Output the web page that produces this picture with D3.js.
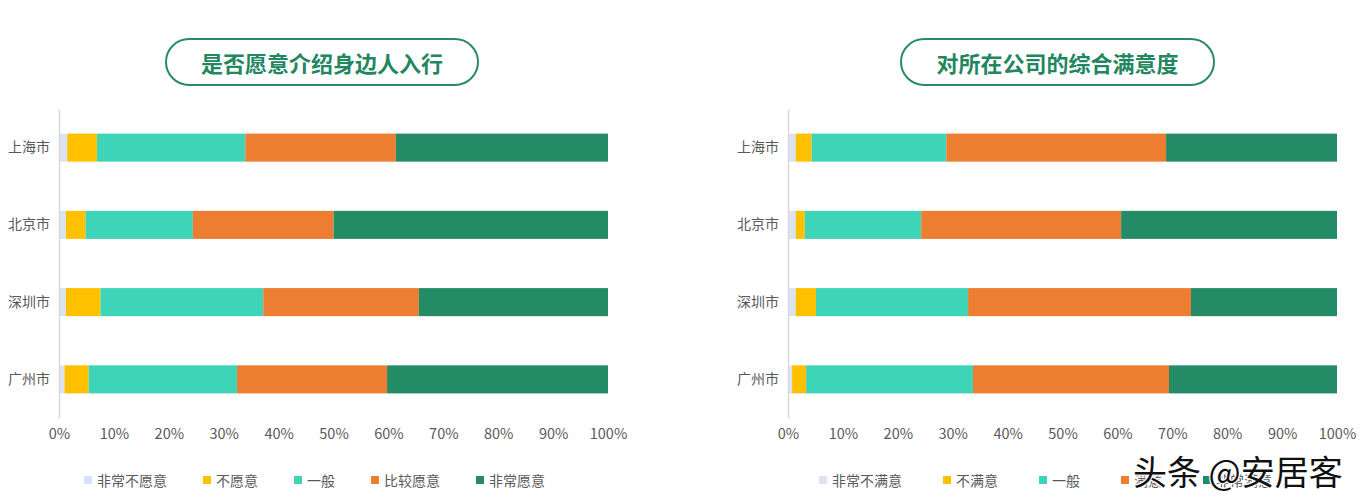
<!DOCTYPE html>
<html>
<head>
<meta charset="utf-8">
<script src="https://cdn.jsdelivr.net/npm/d3@7"></script>
<style>
  html, body { margin: 0; padding: 0; background: #ffffff; }
  svg { display: block; font-family: "Noto Sans CJK SC", "Noto Sans", sans-serif; }
</style>
</head>
<body>
<div id="canvas"></div>
<script>
// 城市
const cities = ["上海市", "北京市", "深圳市", "广州市"];
const tickLabels = ["0%", "10%", "20%", "30%", "40%", "50%", "60%", "70%", "80%", "90%", "100%"];

// 是否愿意介绍身边人入行
const willNames = ["非常不愿意", "不愿意", "一般", "比较愿意", "非常愿意"];
const willVeryNot = [1.5, 1.25, 1.25, 1.0];
const willNot = [5.4, 3.6, 6.3, 4.4];
const willNeutral = [27.0, 19.5, 29.6, 27.0];
const willSomewhat = [27.4, 25.6, 28.3, 27.3];
const willVery = [38.6, 49.9, 34.4, 40.2];

// 对所在公司的综合满意度
const satNames = ["非常不满意", "不满意", "一般", "满意", "非常满意"];
const satVeryNot = [1.4, 1.4, 1.4, 0.75];
const satNot = [2.9, 1.65, 3.7, 2.55];
const satNeutral = [24.5, 21.2, 27.7, 30.4];
const satYes = [40.0, 36.4, 40.6, 35.7];
const satVery = [31.1, 39.3, 26.6, 30.6];

const colors = ["#dae3f3", "#ffc000", "#3dd4b7", "#ed7d31", "#238b65"];

const svg = d3.select("#canvas")
  .append("svg")
  .attr("width", 1366)
  .attr("height", 499);

function drawChart(opt) {
  const g = svg.append("g");

  // 组合成表格给 d3.stack 使用
  const rows = cities.map((city, i) => {
    const row = { city };
    opt.names.forEach((n, k) => { row[n] = opt.series[k][i]; });
    return row;
  });
  const stacked = d3.stack().keys(opt.names).offset(d3.stackOffsetExpand)(rows);

  const x = d3.scaleLinear().domain([0, 1]).range([opt.left, opt.right]);
  const y = d3.scaleBand().domain(cities).range([109, 418])
    .paddingInner(0.637).paddingOuter(0.3185);
  const color = d3.scaleOrdinal().domain(opt.names).range(colors);

  // 标题框
  const tw = opt.titleRight - opt.titleLeft;
  g.append("rect")
    .attr("x", opt.titleLeft).attr("y", 39)
    .attr("width", tw).attr("height", 46)
    .attr("rx", 23).attr("ry", 23)
    .attr("fill", "#fff")
    .attr("stroke", "#2a8a65")
    .attr("stroke-width", 2);
  g.append("text")
    .attr("x", opt.titleLeft + tw / 2).attr("y", 62)
    .attr("text-anchor", "middle")
    .attr("dominant-baseline", "central")
    .attr("font-size", 22)
    .attr("font-weight", "bold")
    .attr("fill", "#228660")
    .text(opt.title);

  // 堆叠条
  g.append("g")
    .selectAll("g")
    .data(stacked)
    .join("g")
    .attr("fill", d => color(d.key))
    .selectAll("rect")
    .data(d => d)
    .join("rect")
    .attr("x", d => x(d[0]))
    .attr("y", d => y(d.data.city))
    .attr("width", d => x(d[1]) - x(d[0]))
    .attr("height", y.bandwidth());

  // y 轴
  const yAxis = g.append("g")
    .attr("transform", `translate(${opt.left},0)`)
    .call(d3.axisLeft(y).tickSize(0).tickPadding(9));
  yAxis.select(".domain").attr("stroke", "#d9d9d9").attr("stroke-width", 1.5);
  yAxis.selectAll("text")
    .attr("font-size", 14)
    .attr("fill", "#595959")
    .attr("font-family", "Noto Sans CJK SC");

  // x 轴刻度文字
  const xAxis = g.append("g")
    .attr("transform", "translate(0,429)")
    .call(d3.axisBottom(x).tickValues(d3.range(0, 1.0001, 0.1)).tickSize(0).tickPadding(0)
      .tickFormat((d, i) => tickLabels[i]));
  xAxis.select(".domain").remove();
  xAxis.selectAll("text")
    .attr("font-size", 14.5)
    .attr("fill", "#595959")
    .attr("font-family", "Noto Sans CJK SC");

  // 图例
  const legend = g.append("g").attr("transform", "translate(0,480)");
  let lx = opt.legendLeft;
  opt.names.forEach((n, k) => {
    legend.append("rect")
      .attr("x", lx).attr("y", -4)
      .attr("width", 8).attr("height", 8)
      .attr("fill", colors[k]);
    const t = legend.append("text")
      .attr("x", lx + 13).attr("y", 0)
      .attr("dominant-baseline", "central")
      .attr("font-size", 14)
      .attr("fill", "#595959")
      .text(n);
    lx += 13 + t.node().getComputedTextLength() + opt.legendGap;
  });
}

drawChart({
  title: "是否愿意介绍身边人入行",
  names: willNames,
  series: [willVeryNot, willNot, willNeutral, willSomewhat, willVery],
  left: 59, right: 608,
  titleLeft: 166, titleRight: 478,
  legendLeft: 84, legendGap: 36
});

drawChart({
  title: "对所在公司的综合满意度",
  names: satNames,
  series: [satVeryNot, satNot, satNeutral, satYes, satVery],
  left: 788, right: 1337,
  titleLeft: 901, titleRight: 1214,
  legendLeft: 819, legendGap: 41
});

// 水印(参考图上本就压在图例上)
svg.append("text")
  .attr("x", 1133).attr("y", 485)
  .attr("font-size", 34)
  .attr("fill", "#111")
  .attr("stroke", "#fff")
  .attr("stroke-width", 2.5)
  .attr("paint-order", "stroke")
  .text("头条 @安居客");
</script>
</body>
</html>
